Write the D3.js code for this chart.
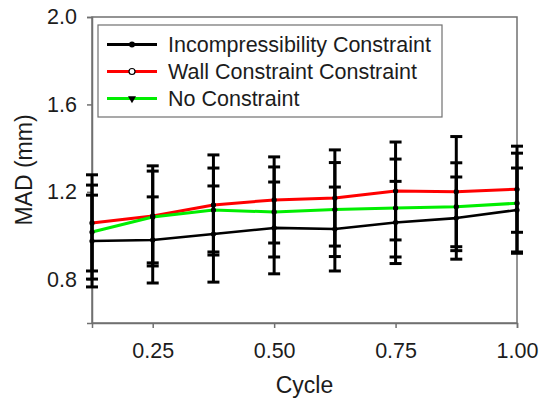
<!DOCTYPE html>
<html>
<head>
<meta charset="utf-8">
<script src="https://cdn.jsdelivr.net/npm/d3@7"></script>
<style>
  html, body { margin: 0; padding: 0; background: #fff; }
  svg { display: block; font-family: "Liberation Sans", Arial, sans-serif; }
</style>
</head>
<body>
<svg id="chart" width="542" height="406"></svg>
<script>
// Cycle positions (fraction of cardiac cycle)
const cycles = [0.125, 0.25, 0.375, 0.5, 0.625, 0.75, 0.875, 1.0];

// Mean absolute distance (mm) and standard deviation per constraint type
const incompMean = [0.975, 0.980, 1.007, 1.035, 1.030, 1.060, 1.080, 1.117];
const incompSD   = [0.210, 0.197, 0.220, 0.210, 0.192, 0.188, 0.188, 0.192];
const wallMean   = [1.058, 1.090, 1.140, 1.163, 1.172, 1.204, 1.201, 1.212];
const wallSD     = [0.220, 0.229, 0.229, 0.197, 0.220, 0.224, 0.252, 0.197];
const noneMean   = [1.016, 1.085, 1.117, 1.108, 1.119, 1.126, 1.132, 1.148];
const noneSD     = [0.215, 0.210, 0.192, 0.206, 0.215, 0.224, 0.201, 0.229];

const xTicks = [0.25, 0.5, 0.75, 1.0];
const yTicks = [0.8, 1.2, 1.6, 2.0];

const seriesNames = ["Incompressibility Constraint", "Wall Constraint Constraint", "No Constraint"];
const seriesColors = ["#000000", "#ff0000", "#00ee00"];

const series = [
  { name: seriesNames[0], color: seriesColors[0], mean: incompMean, sd: incompSD, marker: "dot", width: 2.6 },
  { name: seriesNames[1], color: seriesColors[1], mean: wallMean, sd: wallSD, marker: "open", width: 3 },
  { name: seriesNames[2], color: seriesColors[2], mean: noneMean, sd: noneSD, marker: "tri", width: 3 }
];

const svg = d3.select("#chart");
const plot = { left: 92, right: 517, top: 17, bottom: 323 };

const x = d3.scaleLinear().domain([0.125, 1.0]).range([plot.left, plot.right]);
const y = d3.scaleLinear().domain([0.6, 2.0]).range([plot.bottom, plot.top]);

const textColor = "#1c1c1c";
const frameColor = "#707070";

// Frame
svg.append("rect")
  .attr("x", plot.left).attr("y", plot.top)
  .attr("width", plot.right - plot.left).attr("height", plot.bottom - plot.top)
  .attr("fill", "none").attr("stroke", frameColor).attr("stroke-width", 1.5);

// Axes
const xAxis = svg.append("g")
  .attr("transform", `translate(0,${plot.bottom})`)
  .call(d3.axisBottom(x).tickValues(xTicks).tickFormat(d3.format(".2f")).tickSize(5).tickPadding(15));
const yAxis = svg.append("g")
  .attr("transform", `translate(${plot.left},0)`)
  .call(d3.axisLeft(y).tickValues(yTicks).tickFormat(d3.format(".1f")).tickSize(5).tickPadding(10));

[xAxis, yAxis].forEach(a => {
  a.select(".domain").attr("stroke", frameColor).attr("stroke-width", 1.5);
  a.selectAll(".tick line").attr("stroke", frameColor).attr("stroke-width", 1.5);
  a.selectAll(".tick text")
    .attr("fill", textColor)
    .style("font-size", "21.5px")
    .style("font-family", "'Liberation Sans', Arial, sans-serif");
});

// Axis titles
svg.append("text")
  .attr("x", (plot.left + plot.right) / 2).attr("y", 393)
  .attr("text-anchor", "middle").attr("fill", textColor)
  .style("font-size", "23px").text("Cycle");
svg.append("text")
  .attr("transform", `translate(32,${(plot.top + plot.bottom) / 2}) rotate(-90)`)
  .attr("text-anchor", "middle").attr("fill", textColor)
  .style("font-size", "23px").text("MAD (mm)");

// Series lines: red, green, then black on top
const line = d3.line().x(d => x(d[0])).y(d => y(d[1]));
[series[1], series[2], series[0]].forEach(s => {
  svg.append("path")
    .datum(cycles.map((c, i) => [c, s.mean[i]]))
    .attr("d", line)
    .attr("fill", "none")
    .attr("stroke", s.color)
    .attr("stroke-width", s.width)
    .attr("stroke-linejoin", "round");
});

// Error bars (mean ± SD), drawn in black for all series
const capHalf = 6;
series.forEach(s => {
  const g = svg.append("g").attr("stroke", "#000").attr("stroke-width", 3);
  cycles.forEach((c, i) => {
    const cx = x(c);
    const yTop = y(s.mean[i] + s.sd[i]);
    const yBot = y(s.mean[i] - s.sd[i]);
    g.append("line").attr("x1", cx).attr("x2", cx).attr("y1", yTop).attr("y2", yBot);
    g.append("line").attr("x1", cx - capHalf).attr("x2", cx + capHalf).attr("y1", yTop).attr("y2", yTop);
    g.append("line").attr("x1", cx - capHalf).attr("x2", cx + capHalf).attr("y1", yBot).attr("y2", yBot);
  });
});

// Markers
function drawMarker(g, type, cx, cy, scale) {
  const k = scale || 1;
  if (type === "dot") {
    g.append("circle").attr("cx", cx).attr("cy", cy).attr("r", 3 * k).attr("fill", "#000");
  } else if (type === "open") {
    g.append("circle").attr("cx", cx).attr("cy", cy).attr("r", 3 * k)
      .attr("fill", "#fff").attr("stroke", "#000").attr("stroke-width", 1.2 * k);
  } else {
    g.append("path")
      .attr("transform", `translate(${cx},${cy}) rotate(180)`)
      .attr("d", d3.symbol().type(d3.symbolTriangle).size(28 * k * k)())
      .attr("fill", "#000");
  }
}
// Point markers sit on the error bars and are drawn small and dark
const markerLayer = svg.append("g");
series.forEach(s => {
  cycles.forEach((c, i) => {
    markerLayer.append("circle")
      .attr("cx", x(c)).attr("cy", y(s.mean[i])).attr("r", 2.6).attr("fill", "#000");
  });
});

// Legend
const legend = svg.append("g");
legend.append("rect")
  .attr("x", 98).attr("y", 25).attr("width", 344).attr("height", 92)
  .attr("fill", "#fff").attr("stroke", frameColor).attr("stroke-width", 1.2);
series.forEach((s, i) => {
  const ly = 44.5 + i * 27;
  legend.append("line")
    .attr("x1", 107).attr("x2", 157).attr("y1", ly).attr("y2", ly)
    .attr("stroke", s.color).attr("stroke-width", 3);
  drawMarker(legend, s.marker, 132, ly);
  legend.append("text")
    .attr("x", 168).attr("y", ly + 7.7)
    .attr("fill", textColor)
    .style("font-size", "21.5px")
    .text(s.name);
});
</script>
</body>
</html>
